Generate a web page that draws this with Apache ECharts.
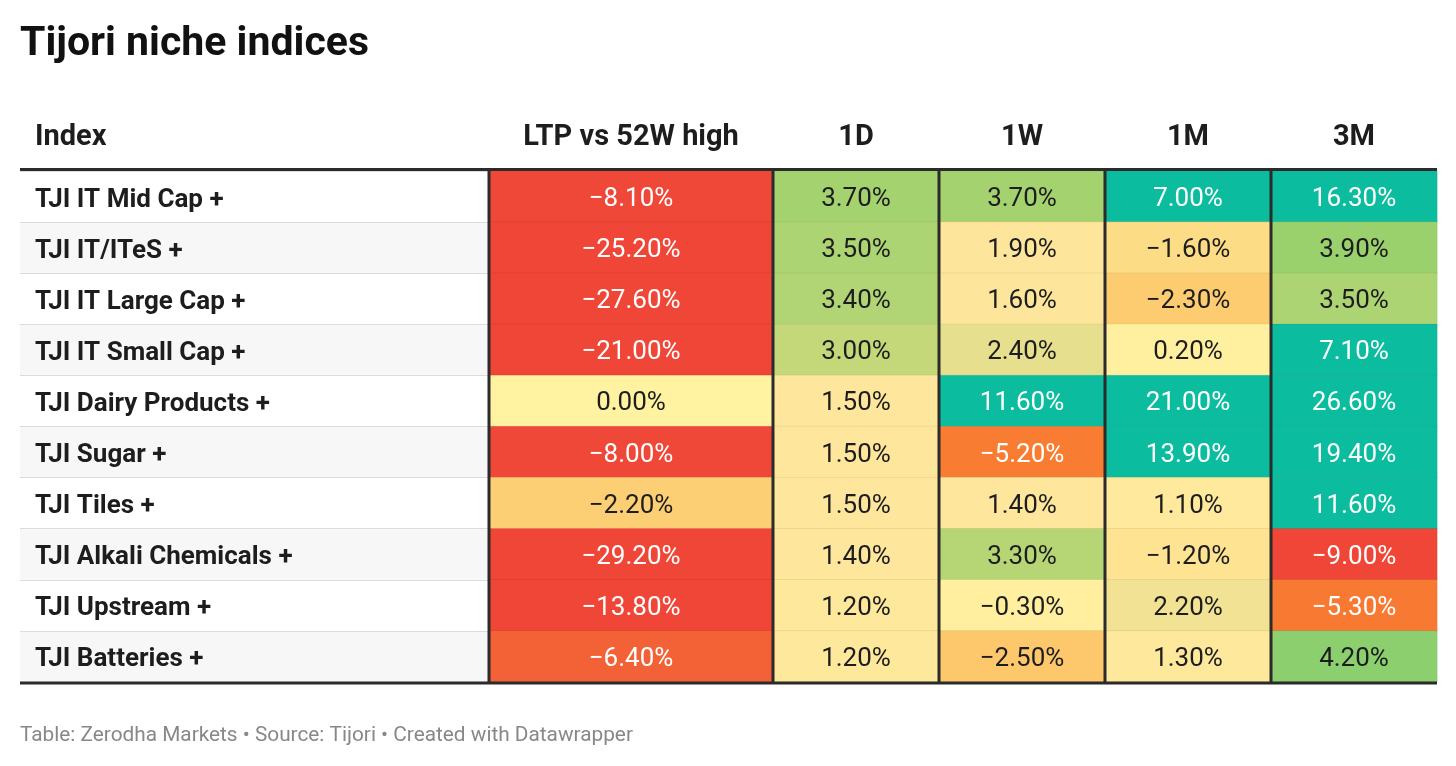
<!DOCTYPE html>
<html>
<head>
<meta charset="utf-8">
<title>Tijori niche indices</title>
<script src="https://cdn.jsdelivr.net/npm/echarts@6/dist/echarts.min.js"></script>
<style>
  html, body { margin: 0; padding: 0; background: #fff; }
  #chart { width: 1456px; height: 766px; }
</style>
</head>
<body>
<div id="chart"></div>
<script>
// table data
const indices = [
  'TJI IT Mid Cap +', 'TJI IT/ITeS +', 'TJI IT Large Cap +', 'TJI IT Small Cap +',
  'TJI Dairy Products +', 'TJI Sugar +', 'TJI Tiles +', 'TJI Alkali Chemicals +',
  'TJI Upstream +', 'TJI Batteries +'
];
const ltpColumn = ['LTP vs 52W high'];
const returnColumns = ['1D', '1W', '1M', '3M'];
const ltpVs52w = [-8.1, -25.2, -27.6, -21.0, 0.0, -8.0, -2.2, -29.2, -13.8, -6.4];
const ret1D = [3.7, 3.5, 3.4, 3.0, 1.5, 1.5, 1.5, 1.4, 1.2, 1.2];
const ret1W = [3.7, 1.9, 1.6, 2.4, 11.6, -5.2, 1.4, 3.3, -0.3, -2.5];
const ret1M = [7.0, -1.6, -2.3, 0.2, 21.0, 13.9, 1.1, -1.2, 2.2, 1.3];
const ret3M = [16.3, 3.9, 3.5, 7.1, 26.6, 19.4, 11.6, -9.0, -5.3, 4.2];

// layout
const FONT = 'Roboto, "Noto Sans", sans-serif';
const tableLeft = 20, tableRight = 1437;
const tableTop = 171, tableBottom = 682;
const ltpLeft = 489, retLeft = 773;
const retColW = (tableRight - retLeft) / returnColumns.length;

// colour scale from -9 to 7, one stop per point
const scaleColors = [
  '#ef4637', '#ef4838', '#f15439', '#f46a36', '#f98030', '#fb9c45', '#fdb85d',
  '#fdd57a', '#fee799', '#fff2a0', '#fee99c', '#fde49b', '#c4d87a', '#95d06a',
  '#62c985', '#36c393', '#0bbd9e'
];

function fmt(v) {
  return v.toFixed(2).replace('-', '\u2212') + '%';
}

function cell(x, y, v) {
  const dark = v < -4 || v > 5.5;
  return { value: [x, y, v], label: { color: dark ? '#ffffff' : '#1d1d1d' } };
}

const ltpData = ltpVs52w.map((v, i) => cell(0, i, v));
const retData = [];
[ret1D, ret1W, ret1M, ret3M].forEach((col, c) => {
  col.forEach((v, i) => retData.push(cell(c, i, v)));
});

const chart = echarts.init(document.getElementById('chart'));

const cellLabel = {
  show: true,
  fontFamily: FONT,
  fontSize: 26,
  offset: [0, 3],
  formatter: p => fmt(p.value[2])
};
const cellStyle = { borderColor: 'rgba(0,0,0,0.06)', borderWidth: 1 };
const headLabel = { fontFamily: FONT, fontSize: 29, fontWeight: 'bold', color: '#1d1d1d', margin: 19 };

// dark column separators
const vLines = [ltpLeft, retLeft];
for (let c = 1; c < returnColumns.length; c++) vLines.push(retLeft + c * retColW);

const graphics = vLines.map(x => ({
  type: 'line', z: 100,
  shape: { x1: x, y1: tableTop, x2: x, y2: tableBottom },
  style: { stroke: '#2b2b2b', lineWidth: 3 }
}));
graphics.push(
  { type: 'line', z: 100, shape: { x1: tableLeft, y1: tableTop - 1.5, x2: tableRight, y2: tableTop - 1.5 },
    style: { stroke: '#2b2b2b', lineWidth: 3 } },
  { type: 'line', z: 100, shape: { x1: tableLeft, y1: tableBottom + 1, x2: tableRight, y2: tableBottom + 1 },
    style: { stroke: '#2b2b2b', lineWidth: 3 } },
  { type: 'text', left: 35, top: 123,
    style: { text: 'Index', font: 'bold 29px ' + FONT, fill: '#1d1d1d' } }
);

const option = {
  backgroundColor: '#ffffff',
  animation: false,
  title: [
    {
      text: 'Tijori niche indices', left: 20, top: 24, padding: 0,
      textStyle: { fontFamily: FONT, fontSize: 41, fontWeight: 'bold', color: '#111' }
    },
    {
      text: 'Table: Zerodha Markets \u2022 Source: Tijori \u2022 Created with Datawrapper',
      left: 20, top: 725, padding: 0,
      textStyle: { fontFamily: FONT, fontSize: 20.8, fontWeight: 'normal', color: '#888' }
    }
  ],
  grid: [
    { left: tableLeft, width: ltpLeft - tableLeft, top: tableTop, height: tableBottom - tableTop },
    { left: ltpLeft, width: retLeft - ltpLeft, top: tableTop, height: tableBottom - tableTop },
    { left: retLeft, width: tableRight - retLeft, top: tableTop, height: tableBottom - tableTop }
  ],
  xAxis: [
    { gridIndex: 0, type: 'category', data: ['Index'], show: false },
    { gridIndex: 1, type: 'category', data: ltpColumn, position: 'top',
      axisLine: { show: false }, axisTick: { show: false }, axisLabel: headLabel },
    { gridIndex: 2, type: 'category', data: returnColumns, position: 'top',
      axisLine: { show: false }, axisTick: { show: false }, axisLabel: headLabel }
  ],
  yAxis: [
    { gridIndex: 0, type: 'category', data: indices, inverse: true,
      axisLine: { show: false }, axisTick: { show: false },
      axisLabel: {
        inside: true, margin: 15,
        formatter: '{r|{value}}',
        rich: { r: { padding: [7, 0, 0, 0], fontFamily: FONT, fontSize: 26, fontWeight: 'bold', color: '#1d1d1d' } }
      },
      splitLine: { show: true, lineStyle: { color: '#dcdcdc', width: 1 } },
      splitArea: { show: true, areaStyle: { color: ['#ffffff', '#f7f7f7'] } } },
    { gridIndex: 1, type: 'category', data: indices, inverse: true, show: false },
    { gridIndex: 2, type: 'category', data: indices, inverse: true, show: false }
  ],
  visualMap: {
    type: 'continuous', show: false, seriesIndex: [0, 1], dimension: 2,
    min: -9, max: 7, inRange: { color: scaleColors }
  },
  series: [
    { type: 'heatmap', xAxisIndex: 1, yAxisIndex: 1, data: ltpData,
      label: cellLabel, itemStyle: cellStyle, emphasis: { disabled: true } },
    { type: 'heatmap', xAxisIndex: 2, yAxisIndex: 2, data: retData,
      label: cellLabel, itemStyle: cellStyle, emphasis: { disabled: true } }
  ],
  graphic: graphics
};

chart.setOption(option);
</script>
</body>
</html>
